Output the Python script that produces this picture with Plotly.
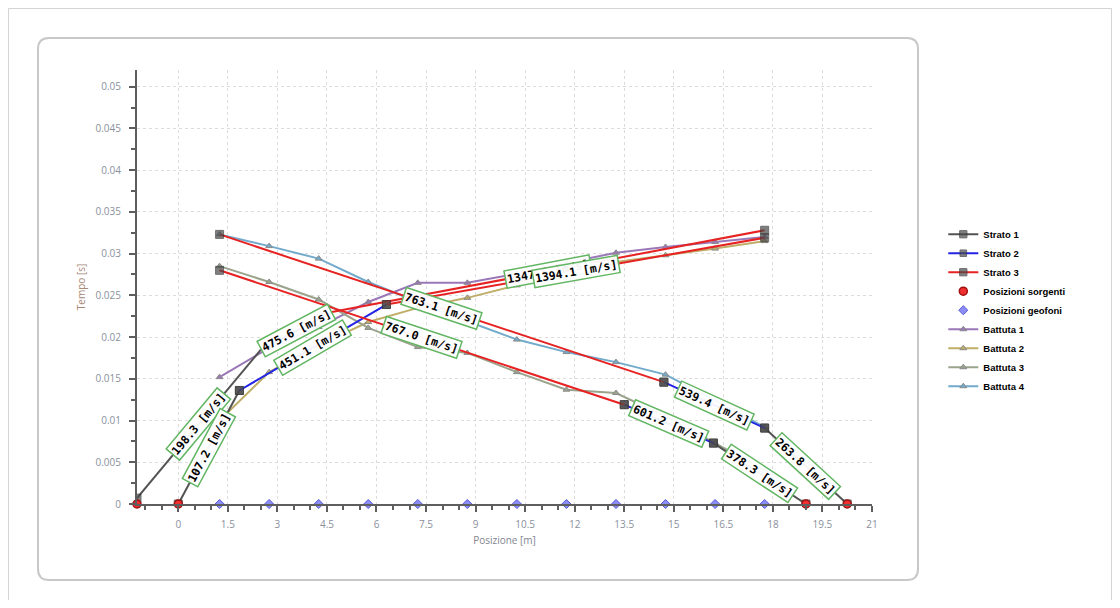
import math

import plotly.graph_objs as go

# geophone / source positions (m)
geofoni_x = [1.25, 2.75, 4.25, 5.75, 7.25, 8.75, 10.25, 11.75, 13.25, 14.75, 16.25, 17.75]
sorgenti_x = [-1.25, 0, 19, 20.25]

# first-arrival picks (s), one list per shot
battuta1 = [0.0152, 0.0187, 0.0212, 0.0242, 0.0265, 0.0265, 0.0276, 0.0289, 0.0301, 0.0308, 0.0314, 0.0320]
battuta2 = [0.0100, 0.0158, 0.0190, 0.0218, 0.0235, 0.0247, 0.0262, 0.0278, 0.0290, 0.0298, 0.0306, 0.0315]
battuta3 = [0.0285, 0.0266, 0.0245, 0.0211, 0.0188, 0.0181, 0.0158, 0.0137, 0.0133, 0.0105, 0.0073, 0.0040]
battuta4 = [0.0323, 0.0309, 0.0294, 0.0266, 0.0242, 0.0219, 0.0197, 0.0182, 0.0170, 0.0155, 0.0124, 0.0092]

# fitted layer segments (None separates the segments)
strato1_x = [-1.25, 2.5, None, 0, 1.85, None, 16.2, 19, None, 17.75, 20.25]
strato1_y = [0.0007, 0.0185, None, 0, 0.0136, None, 0.0073, 0, None, 0.0091, 0]
strato1_vel = [198.3, 107.2, 378.3, 263.8]

strato2_x = [2.5, 4.65, None, 1.85, 6.3, None, 13.5, 16.2, None, 14.7, 17.75]
strato2_y = [0.0185, 0.0230, None, 0.0136, 0.0239, None, 0.0119, 0.0073, None, 0.0146, 0.0091]
strato2_vel = [475.6, 451.1, 601.2, 539.4]

strato3_x = [4.65, 17.75, None, 6.3, 17.75, None, 1.25, 13.5, None, 1.25, 14.7]
strato3_y = [0.0230, 0.0328, None, 0.0239, 0.0319, None, 0.0280, 0.0119, None, 0.0323, 0.0146]
strato3_vel = [1347.5, 1394.1, 767.0, 763.1]

X_RANGE = [-1.25, 21]
Y_RANGE = [0, 0.052]

# page has an 8px body margin, so the figure sits at (8, 8)
OFF = 8
W, H = 1104, 592
PX_L, PX_R, PY_T, PY_B = 137, 872, 70, 504   # plot area in page pixels
PW = PX_R - PX_L
PH = PY_B - PY_T

def px_to_paper(px, py):
    return (px - PX_L) / PW, (PY_B - py) / PH

fig = go.Figure()

BATTUTE = [
    ("Battuta 1", battuta1, "#9a78b8"),
    ("Battuta 2", battuta2, "#bfae68"),
    ("Battuta 3", battuta3, "#9aa48c"),
    ("Battuta 4", battuta4, "#72aacb"),
]
for i, (name, picks, color) in enumerate(BATTUTE):
    fig.add_trace(go.Scatter(x=geofoni_x, y=picks, name=name,
                             mode="lines+markers", legendrank=10 + i,
                             line=dict(color=color, width=2),
                             marker=dict(symbol="triangle-up", size=6, color=color,
                                         line=dict(color="#8a8a8a", width=1))))

STRATI = [
    ("Strato 1", strato1_x, strato1_y, strato1_vel, "#535353"),
    ("Strato 2", strato2_x, strato2_y, strato2_vel, "#2323e6"),
    ("Strato 3", strato3_x, strato3_y, strato3_vel, "#e62222"),
]

def marker_sizes(xs, ys):
    # joints hidden below the label of the shot at -1.25 m are not marked
    return [0 if (x, y) in ((2.5, 0.0185), (4.65, 0.0230)) else 8 for x, y in zip(xs, ys)]

for i, (name, xs, ys, _, color) in enumerate(STRATI):
    fig.add_trace(go.Scatter(x=xs, y=ys, name=name, legendrank=1 + i,
                             mode="lines+markers", connectgaps=False,
                             line=dict(color=color, width=2),
                             marker=dict(symbol="square", size=marker_sizes(xs, ys), color="#4a4a4a",
                                         line=dict(color="#333333", width=1))))

fig.add_trace(go.Scatter(x=sorgenti_x, y=[0] * len(sorgenti_x), name="Posizioni sorgenti",
                         mode="markers", legendrank=4, cliponaxis=False,
                         marker=dict(symbol="circle", size=8, color="#f03030",
                                     line=dict(color="#a01010", width=1.5))))
fig.add_trace(go.Scatter(x=geofoni_x, y=[0] * len(geofoni_x), name="Posizioni geofoni",
                         mode="markers", legendrank=5, cliponaxis=False,
                         marker=dict(symbol="diamond", size=7, color="#8c8cf5",
                                     line=dict(color="#5a5ad8", width=1))))

# velocity labels along each segment
sx = PW / (X_RANGE[1] - X_RANGE[0])
sy = PH / (Y_RANGE[1] - Y_RANGE[0])
annotations = []
for name, xs, ys, vels, color in STRATI:
    segs = []
    cur = []
    for x, y in zip(xs + [None], ys + [None]):
        if x is None:
            segs.append(cur)
            cur = []
        else:
            cur.append((x, y))
    for seg, v in zip(segs, vels):
        (x0, y0), (x1, y1) = seg[0], seg[-1]
        ang = math.degrees(math.atan2((y1 - y0) * sy, (x1 - x0) * sx))
        if ang > 90: ang -= 180
        if ang < -90: ang += 180
        annotations.append(dict(x=(x0 + x1) / 2, y=(y0 + y1) / 2, xref="x", yref="y",
                                text=f"<b>{v:.1f} [m/s]</b>", showarrow=False,
                                textangle=-ang,
                                font=dict(family="DejaVu Sans Mono", size=11.5, color="black"),
                                bgcolor="rgba(255,255,255,0.94)", bordercolor="#62b562",
                                borderwidth=1.5, borderpad=1))

# rounded chart frame + page border
def rounded_rect(px0, py0, px1, py1, r):
    x0, y0 = px_to_paper(px0, py0)
    x1, y1 = px_to_paper(px1, py1)
    rx, ry = r / PW, r / PH
    return (f"M {x0+rx} {y0} L {x1-rx} {y0} Q {x1} {y0} {x1} {y0-ry} "
            f"L {x1} {y1+ry} Q {x1} {y1} {x1-rx} {y1} L {x0+rx} {y1} "
            f"Q {x0} {y1} {x0} {y1+ry} L {x0} {y0-ry} Q {x0} {y0} {x0+rx} {y0} Z")

pb0 = px_to_paper(8.5, 8.5)
pb1 = px_to_paper(1111.5, 640)
shapes = [
    dict(type="rect", xref="paper", yref="paper", x0=pb0[0], y0=pb0[1], x1=pb1[0], y1=pb1[1],
         line=dict(color="#d4d4d4", width=1), layer="below"),
    dict(type="path", xref="paper", yref="paper", path=rounded_rect(38, 38, 918, 580, 11),
         line=dict(color="#c8c8c8", width=2), layer="below"),
]

tick_font = dict(family="Open Sans", size=10, color="#8a909c")

fig.update_layout(
    width=W, height=H,
    margin=dict(l=PX_L - OFF, r=W + OFF - PX_R, t=PY_T - OFF, b=H + OFF - PY_B),
    paper_bgcolor="white", plot_bgcolor="white",
    showlegend=True,
    legend=dict(x=1.097, y=0.655, xanchor="left", yanchor="top",
                font=dict(family="Liberation Sans", size=9.5, color="black", weight="bold"),
                tracegroupgap=0, itemwidth=30, bgcolor="rgba(0,0,0,0)"),
    annotations=annotations,
    shapes=shapes,
    xaxis=dict(range=X_RANGE, tick0=0, dtick=1.5, showgrid=True,
               gridcolor="#dcdcdc", griddash="dot", gridwidth=1,
               zeroline=False, showline=True, linecolor="#5e5e5e", linewidth=2,
               ticks="outside", ticklen=6, tickwidth=2, tickcolor="#5e5e5e",
               ticklabelstandoff=4,
               minor=dict(dtick=0.5, tick0=0, ticks="outside", ticklen=4, tickcolor="#5e5e5e",
                          showgrid=False),
               tickfont=tick_font,
               title=dict(text="Posizione [m]", standoff=7,
                          font=dict(family="Open Sans", size=10, color="#7f8590"))),
    yaxis=dict(range=Y_RANGE, tick0=0, dtick=0.005, showgrid=True,
               gridcolor="#dcdcdc", griddash="dot", gridwidth=1,
               zeroline=False, showline=True, linecolor="#5e5e5e", linewidth=2,
               ticks="outside", ticklen=6, tickwidth=2, tickcolor="#5e5e5e",
               ticklabelstandoff=6,
               minor=dict(dtick=0.0025, tick0=0, ticks="outside", ticklen=4, tickcolor="#5e5e5e",
                          showgrid=False),
               tickfont=tick_font,
               title=dict(text="Tempo [s]", standoff=8,
                          font=dict(family="Open Sans", size=10, color="#a88a78"))),
)

fig.write_html("out.html")
